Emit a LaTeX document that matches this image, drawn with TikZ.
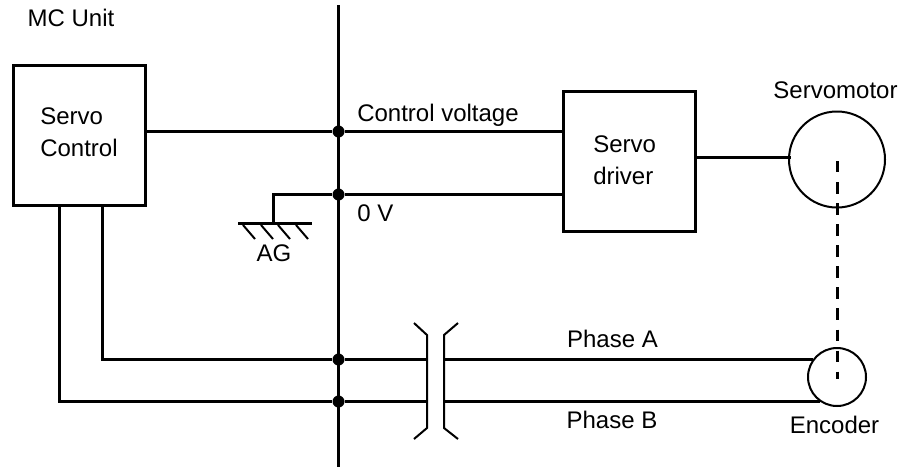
\documentclass[tikz,border=0pt]{standalone}
\usepackage{fontspec}
\setmainfont{Liberation Sans}
\usetikzlibrary{positioning,calc}
\tikzset{
    wire/.style={line width=2.1pt},
    thinwire/.style={line width=1.5pt},
    blockbox/.style={draw,wire,inner sep=0pt,minimum width=99pt,minimum height=104.5pt},
    junction/.style={circle,fill=black,inner sep=0pt,minimum size=9pt},
    motorcircle/.style={draw,circle,thinwire,inner sep=0pt},
    lbl/.style={inner sep=0pt,anchor=base},
    lblleft/.style={inner sep=0pt,anchor=base west,align=left}
}
\begin{document}
\begin{tikzpicture}[x=0.75pt,y=-0.75pt,font=\fontsize{18}{24}\selectfont]
    \useasboundingbox (0,0) rectangle (910,469);
    \node[blockbox] (control) at (79.5,135.5) {};
    \node[blockbox] (driver) at (629.5,161.5) {};
    \node[motorcircle,minimum size=72pt] (motor) at (837,159.5) {};
    \node[motorcircle,minimum size=43.5pt] (encoder) at (837,377) {};
    \node[lblleft] (ctrlblock) at (40,156) {Servo\\Control};
    \node[lblleft] (driverblock) at (593,184) {Servo\\driver};
    \coordinate (bustop) at (338.5,5);
    \coordinate (busbottom) at (338.5,467);
    \draw[wire] (bustop) -- (busbottom);
    \foreach \name/\yi in {jctrl/131.5,jzero/194.5,jphasea/359.5,jphaseb/401.5}{
        \node[junction] (\name) at (338.5,\yi) {};
    }
    \draw[wire] (control.east |- jctrl) -- (jctrl) -- (driver.west |- jctrl);
    \draw[wire] (jzero) -- (driver.west |- jzero);
    \coordinate (motorin) at (791,157.5);
    \draw[wire] (driver.east |- motorin) -- (motorin);
    % ground
    \coordinate (gndtop) at (273.5,223.5);
    \coordinate (gndleft) at (238,223.5);
    \coordinate (gndright) at (312,223.5);
    \draw[wire] (jzero) -| (gndtop);
    \draw[wire] (gndleft) -- (gndright);
    \foreach \xi in {243,261,278,296}{
        \draw[thinwire] (\xi,225) -- (\xi+12,239);
    }
    % connector
    \coordinate (lefta) at (427,359.5);
    \coordinate (leftb) at (427,401.5);
    \coordinate (righta) at (444,359.5);
    \coordinate (rightb) at (444,401.5);
    \draw[thinwire] (414,323) -- (427,335) -- (427,428) -- (414,439);
    \draw[thinwire] (458,323) -- (444,335) -- (444,428) -- (458,439);
    \coordinate (ctrla) at (102.5,205);
    \coordinate (ctrlb) at (59.5,205);
    \draw[wire] (ctrla) |- (jphasea) -- (lefta);
    \draw[wire] (ctrlb) |- (jphaseb) -- (leftb);
    \draw[wire] (righta) -- (righta -| encoder.143);
    \draw[wire] (rightb) -- (rightb -| encoder.236);
    % shaft
    \coordinate (shafttop) at (837.5,161);
    \coordinate (shaftbottom) at (837.5,379);
    \draw[wire,dash pattern=on 8.6pt off 7.2pt] (shafttop) -- (shaftbottom);
    \node[lbl] (mcunit) at (71,26) {MC Unit};
    \node[lbl] (ctrltext) at (438,121) {Control voltage};
    \node[lbl] (zerotext) at (375.5,221) {0 V};
    \node[lbl] (agtext) at (274,261) {AG};
    \node[lbl] (motortext) at (835.5,98) {Servomotor};
    \node[lbl] (phaseatext) at (612.5,347) {Phase A};
    \node[lbl] (phasebtext) at (612,428) {Phase B};
    \node[lbl] (enctext) at (834.5,433) {Encoder};
\end{tikzpicture}
\end{document}
